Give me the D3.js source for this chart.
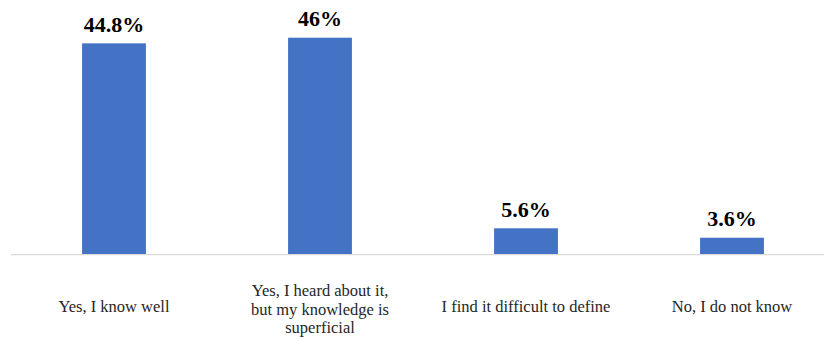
<!DOCTYPE html>
<html>
<head>
<meta charset="utf-8">
<script src="https://cdn.jsdelivr.net/npm/d3@7"></script>
<style>
  body { margin: 0; background: #fff; }
  svg { display: block; }
  text { font-family: "Liberation Serif", Tinos, "Times New Roman", Times, "DejaVu Serif", serif; }
</style>
</head>
<body>
<div id="chart"></div>
<script>
const categories = [
    "Yes, I know well",
    "Yes, I heard about it,\nbut my knowledge is\nsuperficial",
    "I find it difficult to define",
    "No, I do not know"
];
const values = [44.8, 46, 5.6, 3.6];
const valueLabels = ["44.8%", "46%", "5.6%", "3.6%"];

const width = 831,
      height = 340;

const svg = d3.select("#chart").append("svg")
    .attr("width", width)
    .attr("height", height);

// Band scale: step ~206px, bars ~64px wide.
const x = d3.scaleBand()
    .domain(categories)
    .range([11, 835])
    .paddingInner(0.69)
    .paddingOuter(0.345);

const y = d3.scaleLinear()
    .domain([0, 46])
    .range([254.7, 37.7]);

// Bars.
svg.append("g")
    .selectAll("rect")
    .data(values)
    .join("rect")
        .attr("x", (d, i) => x(categories[i]))
        .attr("y", d => y(d))
        .attr("width", x.bandwidth())
        .attr("height", d => y(0) - y(d))
        .attr("fill", "#4472C4");

// Baseline.
svg.append("line")
    .attr("x1", 11)
    .attr("x2", 824)
    .attr("y1", y(0))
    .attr("y2", y(0))
    .attr("stroke", "#d9d9d9")
    .attr("stroke-width", 1.2);

// Value labels.
svg.append("g")
    .selectAll("text")
    .data(values)
    .join("text")
        .attr("x", (d, i) => x(categories[i]) + x.bandwidth() / 2)
        .attr("y", d => y(d) - 11.5)
        .attr("text-anchor", "middle")
        .attr("font-weight", "bold")
        .attr("font-size", 22)
        .attr("fill", "#000")
        .text((d, i) => valueLabels[i]);

// Category labels (may wrap over several lines).
const lh = 18.5;
svg.append("g")
    .selectAll("text")
    .data(categories)
    .join("text")
        .attr("text-anchor", "middle")
        .attr("font-size", 16.5)
        .attr("fill", "#262626")
        .each(function(d) {
            const lines = d.split("\n");
            const cx = x(d) + x.bandwidth() / 2;
            const y0 = 312 - (lines.length - 1) * lh / 2 + (lines.length > 1 ? 2.5 : 0);
            d3.select(this).selectAll("tspan")
                .data(lines)
                .join("tspan")
                    .attr("x", cx)
                    .attr("y", (l, i) => y0 + i * lh)
                    .text(l => l);
        });
</script>
</body>
</html>
